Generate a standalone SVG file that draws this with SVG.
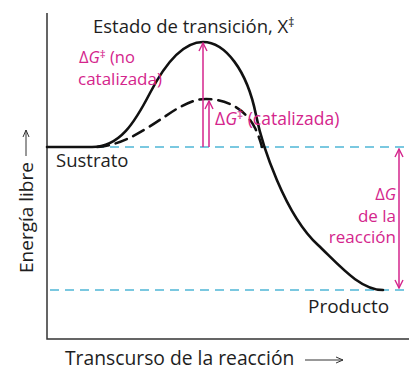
<svg xmlns="http://www.w3.org/2000/svg" width="409" height="370" viewBox="0 0 409 370">
<style>
.t{font-family:"Open Sans","Noto Sans",sans-serif;fill:#1e1e1e}
.m{font-family:"Open Sans","Noto Sans",sans-serif;fill:#d4258c}
.ax{stroke:#333;stroke-width:1.5;fill:none}
.lvl{stroke:#4fb7d6;stroke-width:1.6;stroke-dasharray:9 6;fill:none}
.cur{stroke:#111;stroke-width:2.6;fill:none;stroke-linecap:round}
.arr{stroke:#d4258c;stroke-width:1.5;fill:none}
</style>
<defs>
<marker id="ah" markerWidth="10" markerHeight="10" refX="9" refY="5" orient="auto-start-reverse" markerUnits="userSpaceOnUse">
<path d="M1,1 L9,5 L1,9" fill="none" stroke="#d4258c" stroke-width="1.4"/>
</marker>
<marker id="ak" markerWidth="10" markerHeight="10" refX="9" refY="5" orient="auto" markerUnits="userSpaceOnUse">
<path d="M2,2 L9,5 L2,8" fill="none" stroke="#333" stroke-width="1"/>
</marker>
</defs>
<g id="axes">
<path class="ax" d="M47,13 V339 H409"/>
<path d="M26,156 V130" stroke="#333" stroke-width="1" marker-end="url(#ak)"/>
<text class="t" font-size="19" transform="translate(33,273) rotate(-90)">Energía libre</text>
<path d="M305,360 H343" stroke="#333" stroke-width="1" marker-end="url(#ak)"/>
<text class="t" x="65" y="365" font-size="19.3">Transcurso de la reacción</text>
</g>
<g id="levels">
<path class="lvl" d="M95,147 H409"/>
<path class="lvl" d="M50,290 H409"/>
</g>
<g id="connectors">
<path class="cur" d="M47,147 L92,147 C120,147 135,122 150,93 C164,66 182,42 203,42 C225,42 247,70 256,115 C262,145 285,215 318,245 C340,266 360,290 383,290"/>
<path class="cur" stroke-dasharray="12 7" d="M97,147 C130,145 160,118 180,107 C192,101 198,99 206,99 C225,99 245,108 255,128 C258,134 260,140 262,147"/>
<path class="arr" d="M203,147 V43" marker-end="url(#ah)"/>
<path class="arr" d="M209,147 V101" marker-end="url(#ah)"/>
<path class="arr" d="M399,149 V288" marker-start="url(#ah)" marker-end="url(#ah)"/>
</g>
<g id="transicion">
<text class="t" x="93" y="33" font-size="18.5">Estado de transición, X<tspan font-size="12" dy="-6">‡</tspan></text>
</g>
<g id="no-catalizada">
<text class="m" x="79" y="63" font-size="16.5">Δ<tspan font-style="italic">G</tspan><tspan font-size="11.5" dy="-5">‡</tspan><tspan dy="5"> (no</tspan></text>
<text class="m" x="78" y="85" font-size="17">catalizada)</text>
</g>
<g id="catalizada">
<text class="m" x="215" y="125" font-size="17.5">Δ<tspan font-style="italic">G</tspan><tspan font-size="12" dy="-6">‡</tspan><tspan dy="6"> (catalizada)</tspan></text>
</g>
<g id="sustrato">
<text class="t" x="56" y="167" font-size="18.5">Sustrato</text>
</g>
<g id="delta-g">
<text class="m" x="396" y="200" font-size="16.5" text-anchor="end">Δ<tspan font-style="italic">G</tspan></text>
<text class="m" x="396" y="222" font-size="17" text-anchor="end">de la</text>
<text class="m" x="396" y="243" font-size="17" text-anchor="end">reacción</text>
</g>
<g id="producto">
<text class="t" x="308" y="313" font-size="19">Producto</text>
</g>
</svg>
